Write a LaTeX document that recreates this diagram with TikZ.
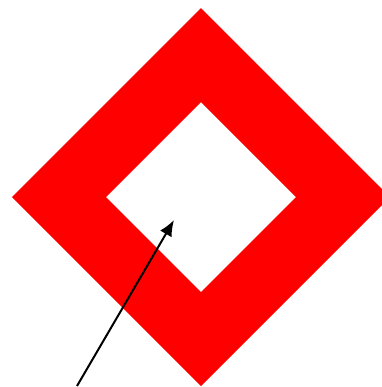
\documentclass[tikz,border=0pt]{standalone}
\usepackage{tikz}
\usetikzlibrary{arrows.meta}

\begin{document}
\begin{tikzpicture}[x=0.75pt,y=-0.75pt]
\useasboundingbox (0,0) rectangle (382,387);
\clip (0,0) rectangle (382,387);
\fill[red,even odd rule] (201,8) -- (390,197) -- (201,386) -- (12,197) -- cycle
  (201,102) -- (296,197) -- (201,292) -- (106,197) -- cycle;
\coordinate (tail) at (77,386);
\coordinate (tip) at (174,220);
\draw[line width=1.5pt,-{Latex[length=12pt,width=10pt]}] (tail) -- (tip);
\end{tikzpicture}
\end{document}
